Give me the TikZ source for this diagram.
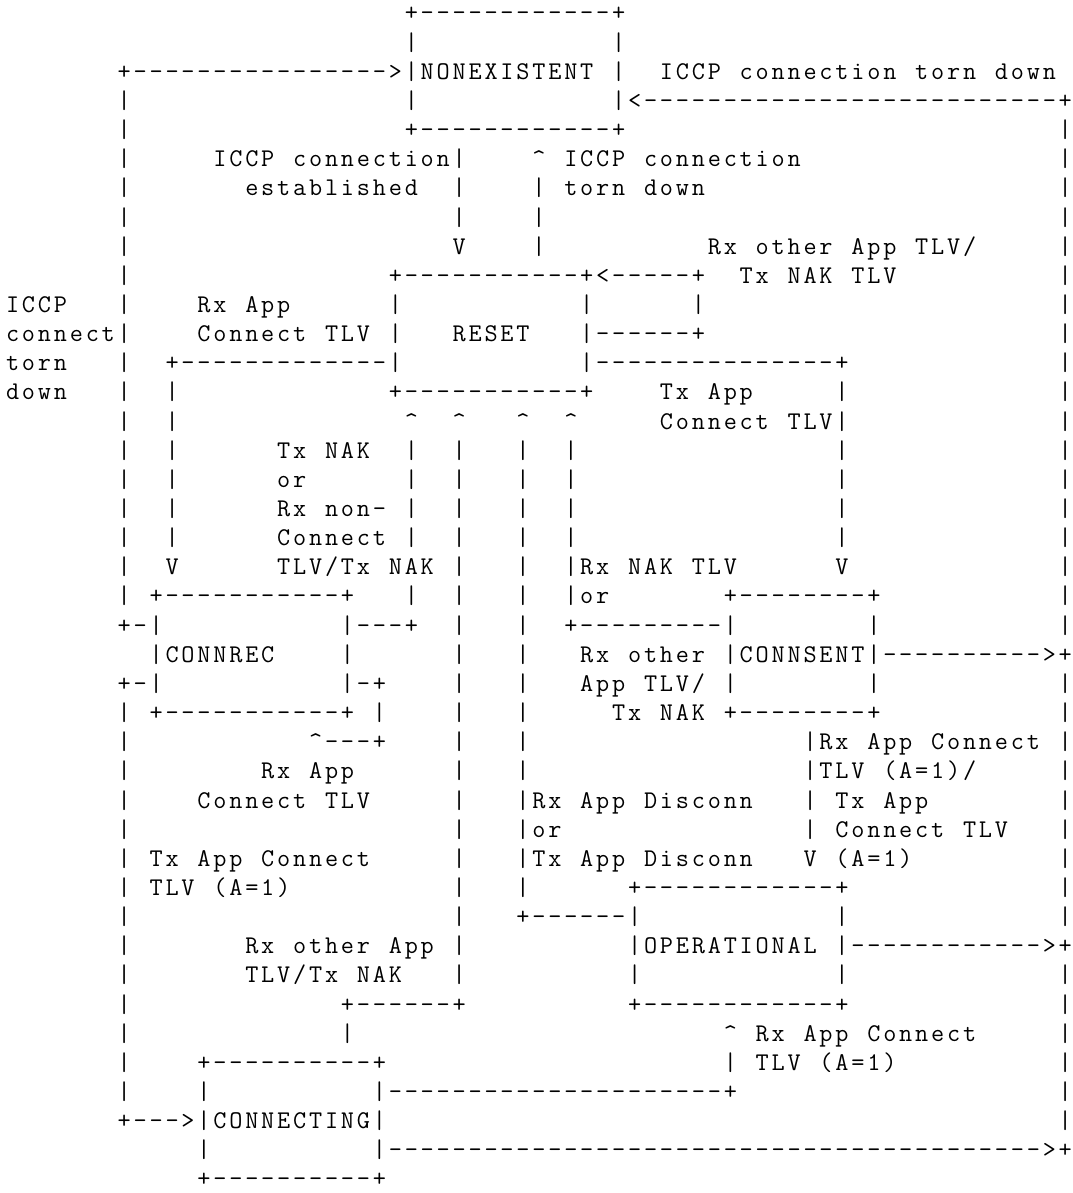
\documentclass[tikz,border=0pt]{standalone}
\usepackage{fontspec}

% Fixed-pitch character cells: every character sits in its own box of
% one column width, so columns line up exactly like a plain-text figure.
\ExplSyntaxOn
\dim_new:N \l_asc_pitch_dim
\dim_set:Nn \l_asc_pitch_dim { 15.95pt }
\cs_new_protected:Npn \asc_cell:n #1
  { \makebox [ \l_asc_pitch_dim ] [ c ] { #1 } }
\NewDocumentCommand \ascstr { m }
  { \str_map_function:nN { #1 } \asc_cell:n }
\NewDocumentCommand \ascrep { m m }
  { \prg_replicate:nn { #1 } { \asc_cell:n { #2 } } }
\ExplSyntaxOff

\tikzset{
  asc/.style={anchor=base west, inner sep=0pt, outer sep=0pt,
    font=\ttfamily\fontsize{25.5}{29}\selectfont}
}
% column c starts at x = 4.625 + 15.95 c, row r has its baseline at y = 1172 - 29.15 r
% text segment: row, column, text
\newcommand\ascseg[3]{\node[asc] (t-#1-#2) at ({4.625+15.95*#2},{1172-29.15*#1}) {\ascstr{#3}};}
% run of dashes: row, first column, last column
\newcommand\ascdash[3]{\node[asc] (d-#1-#2) at ({4.625+15.95*#2},{1172-29.15*#1}) {\ascrep{#3-#2+1}{-}};}
% run of vertical bars: column, first row, last row
\newcommand\ascbar[3]{\foreach \rr in {#2,...,#3}{\node[asc] (b-#1-\rr) at ({4.625+15.95*#1},{1172-29.15*\rr}) {\ascstr{|}};}}

\begin{document}
\begin{tikzpicture}[x=1pt,y=1pt]
\fill[white] (0,0) rectangle (1072,1193);
\useasboundingbox (0,0) rectangle (1072,1193);

% ---- vertical lines ----
\ascbar{7}{3}{20}   \ascbar{7}{24}{37}
\ascbar{25}{1}{3}   \ascbar{38}{1}{3}
\ascbar{66}{4}{21}  \ascbar{66}{23}{31}  \ascbar{66}{33}{38}
\ascbar{28}{5}{7}   \ascbar{28}{15}{33}
\ascbar{33}{6}{8}
\ascbar{24}{10}{12} \ascbar{36}{10}{12}  \ascbar{43}{10}{10}
\ascbar{10}{13}{18} \ascbar{52}{13}{18}
\ascbar{25}{15}{18} \ascbar{25}{20}{20}
\ascbar{32}{15}{30} \ascbar{35}{15}{20}
\ascbar{9}{21}{23}  \ascbar{21}{21}{23}
\ascbar{45}{21}{23} \ascbar{54}{21}{23}
\ascbar{23}{24}{24}
\ascbar{50}{25}{28}
\ascbar{39}{31}{33} \ascbar{52}{31}{33}
\ascbar{21}{35}{35} \ascbar{45}{36}{36}
\ascbar{12}{37}{39} \ascbar{23}{37}{39}

% ---- NONEXISTENT ----
\ascseg{0}{25}{+} \ascdash{0}{26}{37} \ascseg{0}{38}{+}
\ascseg{2}{7}{+} \ascdash{2}{8}{23} \ascseg{2}{24}{>}
\ascseg{2}{26}{NONEXISTENT}
\ascseg{2}{41}{ICCP connection torn down}
\ascseg{3}{39}{<} \ascdash{3}{40}{65} \ascseg{3}{66}{+}
\ascseg{4}{25}{+} \ascdash{4}{26}{37} \ascseg{4}{38}{+}
\ascseg{5}{13}{ICCP connection} \ascseg{5}{33}{^} \ascseg{5}{35}{ICCP connection}
\ascseg{6}{15}{established} \ascseg{6}{35}{torn down}
\ascseg{8}{28}{V} \ascseg{8}{44}{Rx other App TLV/}

% ---- RESET ----
\ascseg{9}{24}{+} \ascdash{9}{25}{35} \ascseg{9}{36}{+<} \ascdash{9}{38}{42} \ascseg{9}{43}{+}
\ascseg{9}{46}{Tx NAK TLV}
\ascseg{10}{0}{ICCP} \ascseg{10}{12}{Rx App}
\ascseg{11}{0}{connect} \ascseg{11}{12}{Connect TLV} \ascseg{11}{28}{RESET}
\ascdash{11}{37}{42} \ascseg{11}{43}{+}
\ascseg{12}{0}{torn} \ascseg{12}{10}{+} \ascdash{12}{11}{23}
\ascdash{12}{37}{51} \ascseg{12}{52}{+}
\ascseg{13}{0}{down} \ascseg{13}{24}{+} \ascdash{13}{25}{35} \ascseg{13}{36}{+}
\ascseg{13}{41}{Tx App}
\ascseg{14}{25}{^} \ascseg{14}{28}{^} \ascseg{14}{32}{^} \ascseg{14}{35}{^}
\ascseg{14}{41}{Connect TLV}
\ascseg{15}{17}{Tx NAK}
\ascseg{16}{17}{or}
\ascseg{17}{17}{Rx non-}
\ascseg{18}{17}{Connect}
\ascseg{19}{10}{V} \ascseg{19}{17}{TLV/Tx NAK} \ascseg{19}{36}{Rx NAK TLV} \ascseg{19}{52}{V}

% ---- CONNREC and CONNSENT ----
\ascseg{20}{9}{+} \ascdash{20}{10}{20} \ascseg{20}{21}{+}
\ascseg{20}{36}{or}
\ascseg{20}{45}{+} \ascdash{20}{46}{53} \ascseg{20}{54}{+}
\ascseg{21}{7}{+-} \ascdash{21}{22}{24} \ascseg{21}{25}{+}
\ascseg{21}{35}{+} \ascdash{21}{36}{44}
\ascseg{22}{10}{CONNREC} \ascseg{22}{36}{Rx other} \ascseg{22}{46}{CONNSENT}
\ascdash{22}{55}{64} \ascseg{22}{65}{>+}
\ascseg{23}{7}{+-} \ascseg{23}{22}{-+} \ascseg{23}{36}{App TLV/}
\ascseg{24}{9}{+} \ascdash{24}{10}{20} \ascseg{24}{21}{+}
\ascseg{24}{38}{Tx NAK}
\ascseg{24}{45}{+} \ascdash{24}{46}{53} \ascseg{24}{54}{+}
\ascseg{25}{19}{^---+} \ascseg{25}{51}{Rx App Connect}
\ascseg{26}{16}{Rx App} \ascseg{26}{51}{TLV (A=1)/}
\ascseg{27}{12}{Connect TLV} \ascseg{27}{33}{Rx App Disconn} \ascseg{27}{52}{Tx App}
\ascseg{28}{33}{or} \ascseg{28}{52}{Connect TLV}
\ascseg{29}{9}{Tx App Connect} \ascseg{29}{33}{Tx App Disconn}
\ascseg{29}{50}{V} \ascseg{29}{52}{(A=1)}

% ---- OPERATIONAL ----
\ascseg{30}{9}{TLV (A=1)}
\ascseg{30}{39}{+} \ascdash{30}{40}{51} \ascseg{30}{52}{+}
\ascseg{31}{32}{+} \ascdash{31}{33}{38}
\ascseg{32}{15}{Rx other App} \ascseg{32}{40}{OPERATIONAL}
\ascdash{32}{53}{64} \ascseg{32}{65}{>+}
\ascseg{33}{15}{TLV/Tx NAK}
\ascseg{34}{21}{+} \ascdash{34}{22}{27} \ascseg{34}{28}{+}
\ascseg{34}{39}{+} \ascdash{34}{40}{51} \ascseg{34}{52}{+}
\ascseg{35}{45}{^} \ascseg{35}{47}{Rx App Connect}

% ---- CONNECTING ----
\ascseg{36}{12}{+} \ascdash{36}{13}{22} \ascseg{36}{23}{+}
\ascseg{36}{47}{TLV (A=1)}
\ascdash{37}{24}{44} \ascseg{37}{45}{+}
\ascseg{38}{7}{+} \ascdash{38}{8}{10} \ascseg{38}{11}{>}
\ascseg{38}{13}{CONNECTING}
\ascdash{39}{24}{64} \ascseg{39}{65}{>+}
\ascseg{40}{12}{+} \ascdash{40}{13}{22} \ascseg{40}{23}{+}
\end{tikzpicture}
\end{document}
